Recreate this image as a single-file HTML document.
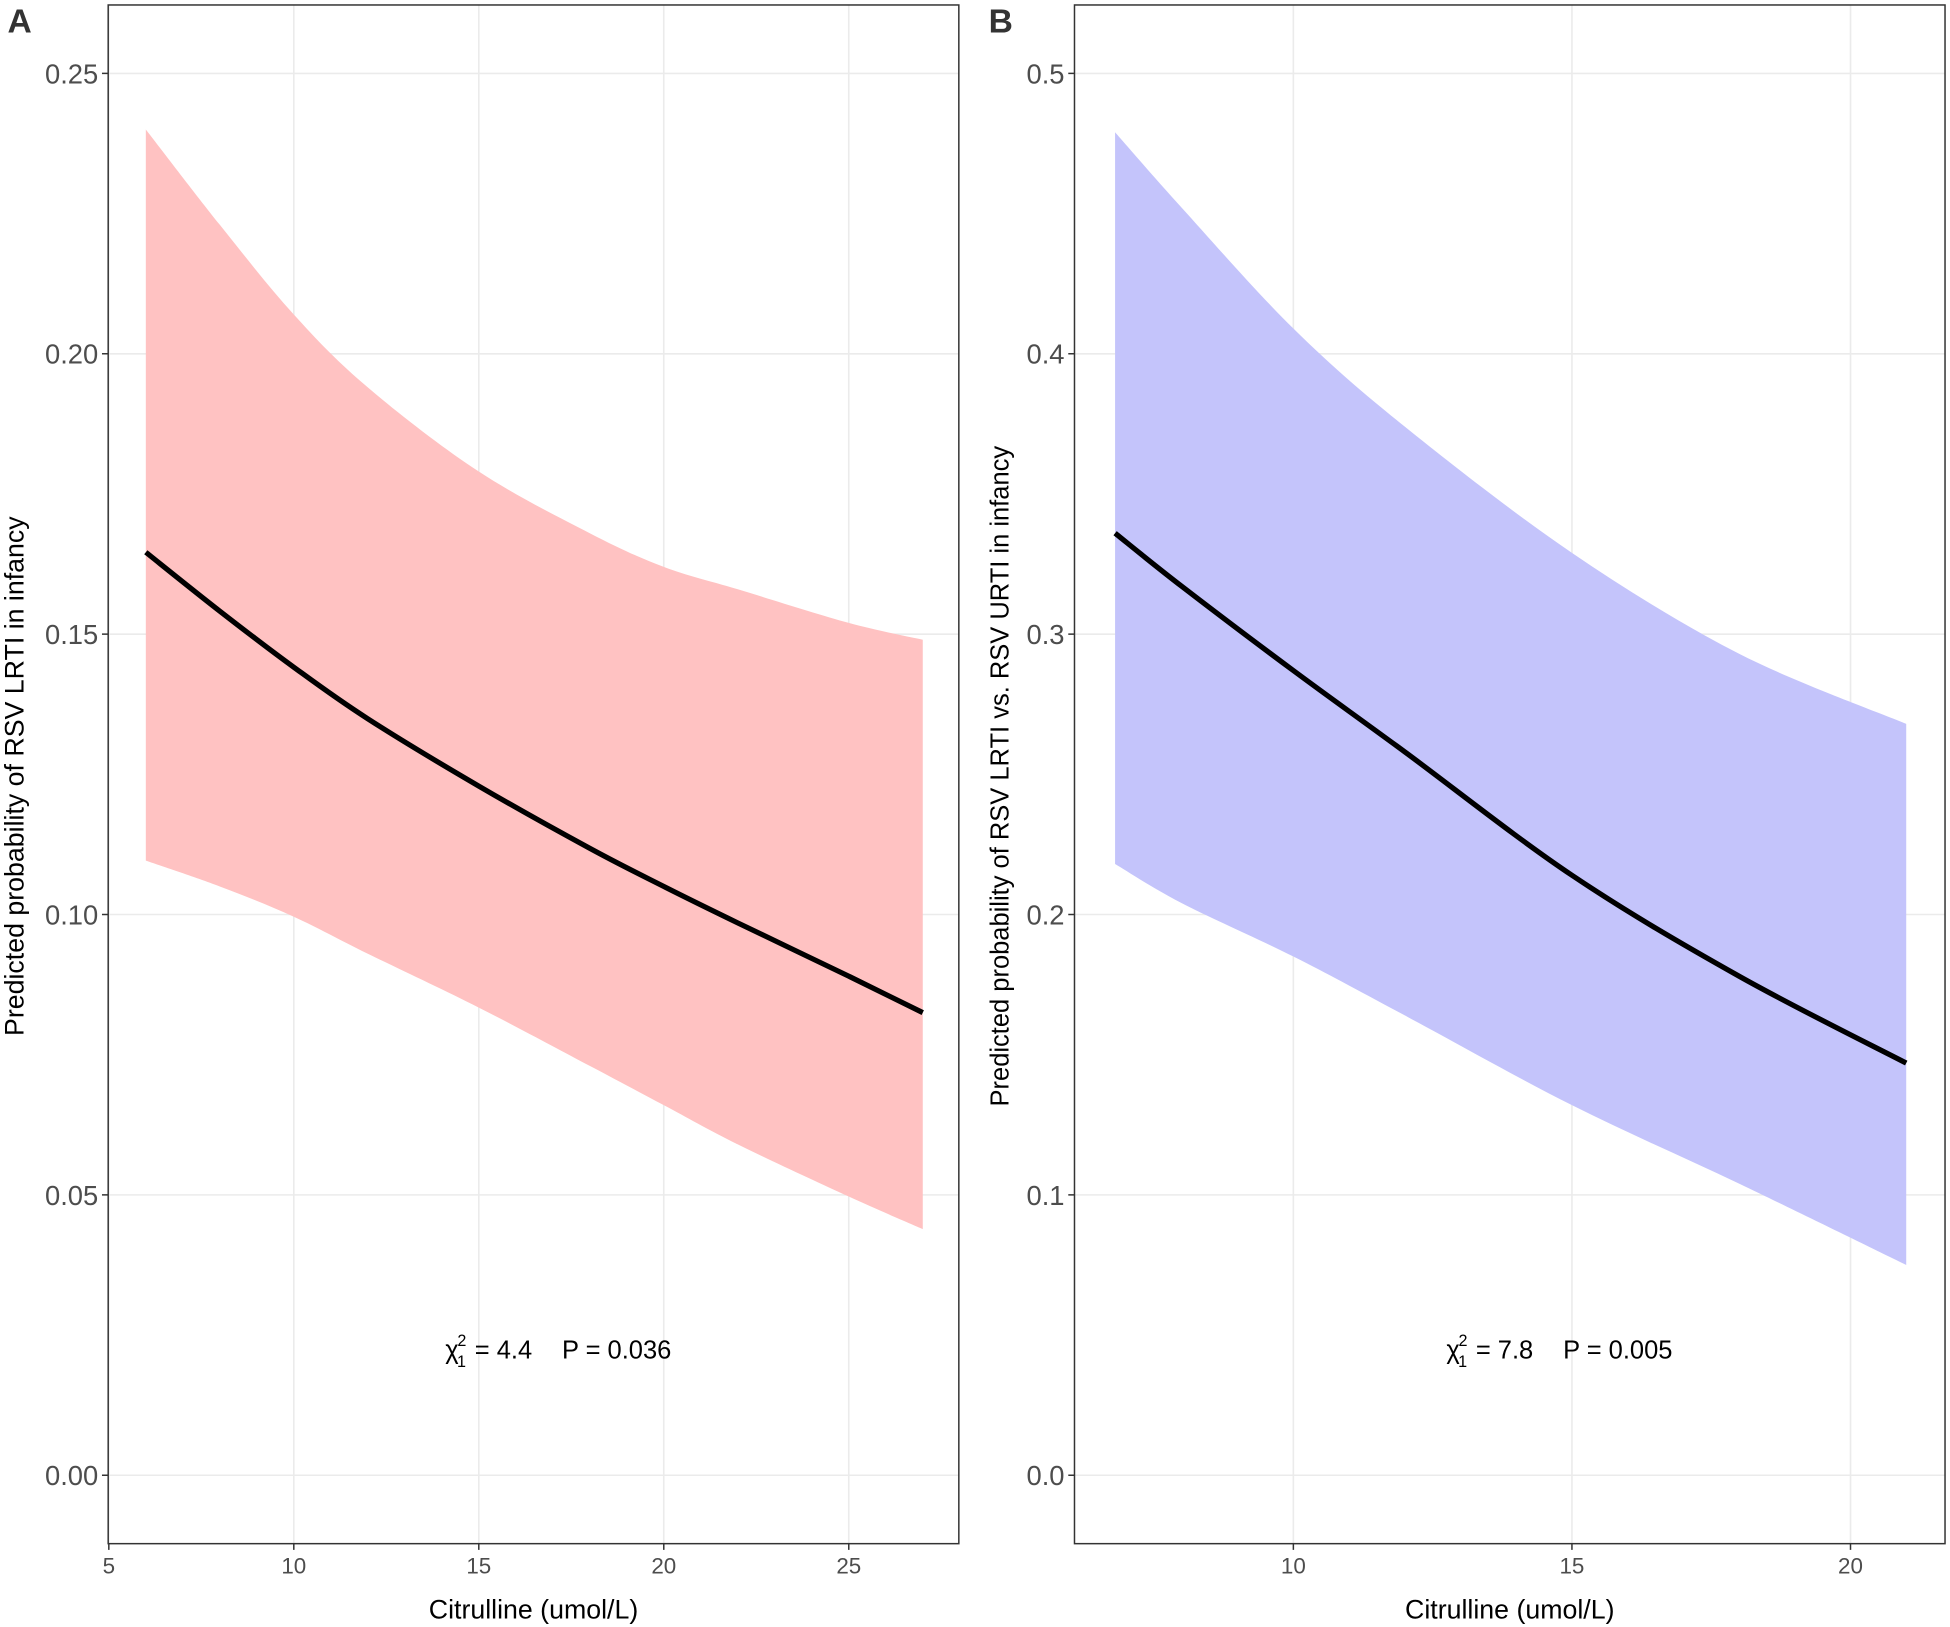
<!DOCTYPE html>
<html><head><meta charset="utf-8">
<style>
html,body{margin:0;padding:0;background:#fff;}
svg{display:block;font-family:"Liberation Sans",sans-serif;}
</style></head>
<body>
<svg id="chart" width="1950" height="1627" viewBox="0 0 1568 1308" preserveAspectRatio="none">
</svg>
<script>
// Panel A data
const aX = [6, 8, 10, 12, 15, 18, 20, 22, 25, 27];
const aFit = [0.1646, 0.1541, 0.1441, 0.1349, 0.1229, 0.1118, 0.1050, 0.0985, 0.0890, 0.0825];
const aUpper = [0.240, 0.223, 0.207, 0.194, 0.179, 0.168, 0.162, 0.158, 0.152, 0.149];
const aLower = [0.1096, 0.105, 0.0996, 0.093, 0.0834, 0.073, 0.066, 0.059, 0.0497, 0.0439];
const aXTicks = [5, 10, 15, 20, 25];
const aYTicks = [0, 0.05, 0.10, 0.15, 0.20, 0.25];
const aYLabels = ["0.00", "0.05", "0.10", "0.15", "0.20", "0.25"];
// Panel B data
const bX = [6.8, 8, 10, 12, 15, 18, 21];
const bFit = [0.336, 0.317, 0.287, 0.258, 0.214, 0.178, 0.147];
const bUpper = [0.479, 0.452, 0.409, 0.374, 0.329, 0.293, 0.268];
const bLower = [0.218, 0.204, 0.185, 0.164, 0.132, 0.104, 0.075];
const bXTicks = [10, 15, 20];
const bYTicks = [0, 0.1, 0.2, 0.3, 0.4, 0.5];
const bYLabels = ["0.0", "0.1", "0.2", "0.3", "0.4", "0.5"];

const NS = "http://www.w3.org/2000/svg";
const svg = document.getElementById("chart");
function mk(tag, attrs, parent, text) {
  const e = document.createElementNS(NS, tag);
  for (const k in attrs) e.setAttribute(k, attrs[k]);
  if (text !== undefined) e.textContent = text;
  (parent || svg).appendChild(e);
  return e;
}
function smooth(pts) {
  let d = "";
  for (let i = 0; i < pts.length - 1; i++) {
    const p0 = pts[Math.max(0, i - 1)], p1 = pts[i], p2 = pts[i + 1], p3 = pts[Math.min(pts.length - 1, i + 2)];
    const c1 = [p1[0] + (p2[0] - p0[0]) / 6, p1[1] + (p2[1] - p0[1]) / 6];
    const c2 = [p2[0] - (p3[0] - p1[0]) / 6, p2[1] - (p3[1] - p1[1]) / 6];
    d += " C" + c1[0] + "," + c1[1] + " " + c2[0] + "," + c2[1] + " " + p2[0] + "," + p2[1];
  }
  return d;
}

function panel(o) {
  const g = mk("g", {});
  
  
  const sx = v => o.x0 + (v - o.xv0) * o.xs;
  const sy = v => o.y0 - (v - o.yv0) * o.ys;
  o.yTicks.forEach(t => {
    const l = mk("line", {x1: o.left, x2: o.right, y1: sy(t), y2: sy(t), stroke: "#ebebeb", "stroke-width": 1.3}, g);
    
    
  });
  o.xTicks.forEach(t => {
    const l = mk("line", {x1: sx(t), x2: sx(t), y1: o.top, y2: o.bottom, stroke: "#ebebeb", "stroke-width": 1.3}, g);
    
    
  });
  const up = o.xs_.map((x, i) => [sx(x), sy(o.up[i])]);
  const lo = o.xs_.map((x, i) => [sx(x), sy(o.lo[i])]).reverse();
  let d = "M" + up[0][0] + "," + up[0][1] + smooth(up) + " L" + lo[0][0] + "," + lo[0][1] + smooth(lo) + " Z";
  const rib = mk("path", {d: d, fill: o.fill, stroke: "none"}, g);
  
  
  const fp = o.xs_.map((x, i) => [sx(x), sy(o.fit[i])]);
  const ln = mk("path", {d: "M" + fp[0][0] + "," + fp[0][1] + smooth(fp), fill: "none", stroke: "#000", "stroke-width": 4.2, "stroke-linejoin": "round"}, g);
  
  
  const b = mk("rect", {x: o.left, y: o.top, width: o.right - o.left, height: o.bottom - o.top, fill: "none", stroke: "#333", "stroke-width": 1.2}, g);
  
  
  o.yTicks.forEach((t, i) => {
    mk("line", {x1: o.left - 5, x2: o.left, y1: sy(t), y2: sy(t), stroke: "#333", "stroke-width": 1.2}, g);
    const tx = mk("text", {x: o.left - 8, y: sy(t) + 8, "text-anchor": "end", "font-size": 22, fill: "#4d4d4d"}, g, o.yLabels[i]);
    
    
  });
  o.xTicks.forEach(t => {
    mk("line", {x1: sx(t), x2: sx(t), y1: o.bottom, y2: o.bottom + 5, stroke: "#333", "stroke-width": 1.2}, g);
    const tx = mk("text", {x: sx(t), y: o.bottom + 24, "text-anchor": "middle", "font-size": 18, fill: "#4d4d4d"}, g, String(t));
    
    
  });
  const xt = mk("text", {x: (o.left + o.right) / 2, y: 1301, "text-anchor": "middle", "font-size": 21.5, fill: "#000"}, g, "Citrulline (umol/L)");
  
  
  const yt = mk("text", {x: 0, y: 0, transform: "translate(" + o.ytx + "," + o.yty + ") rotate(-90)", "text-anchor": "middle", "font-size": o.ytfs, fill: "#000"}, g, o.ytitle);
  
  
  const pl = mk("text", {x: o.lx, y: 26, "font-size": 27, "font-weight": "bold", fill: "#333"}, g, o.letter);
  
  
  const an = mk("text", {x: o.ax, y: 1092, "font-size": 20.5, fill: "#000"}, g);
  
  
  mk("tspan", {}, an, "χ");
  mk("tspan", {dx: -1, dy: -10, "font-size": 13}, an, "2");
  mk("tspan", {dx: -7.5, dy: 17, "font-size": 13}, an, "1");
  mk("tspan", {dx: 7, dy: -7}, an, "= " + o.chi);
  mk("tspan", {dx: 24}, an, "P = " + o.p);
}

panel({name: "panel-a", left: 87, right: 771, top: 4, bottom: 1241,
  x0: 87.5, xv0: 5, xs: 29.75, y0: 1186, yv0: 0, ys: 4508,
  xTicks: aXTicks, yTicks: aYTicks, yLabels: aYLabels,
  xs_: aX, fit: aFit, up: aUpper, lo: aLower, fill: "#ffc2c2",
  ytx: 19, yty: 624, ytfs: 21.5, ytitle: "Predicted probability of RSV LRTI in infancy",
  letter: "A", lx: 6, ax: 358, chi: "4.4", p: "0.036"});
panel({name: "panel-b", left: 864, right: 1564, top: 4, bottom: 1241,
  x0: 1040, xv0: 10, xs: 44.8, y0: 1186, yv0: 0, ys: 2254,
  xTicks: bXTicks, yTicks: bYTicks, yLabels: bYLabels,
  xs_: bX, fit: bFit, up: bUpper, lo: bLower, fill: "#c4c4fb",
  ytx: 811, yty: 624, ytfs: 20.5, ytitle: "Predicted probability of RSV LRTI vs. RSV URTI in infancy",
  letter: "B", lx: 795, ax: 1163, chi: "7.8", p: "0.005"});
</script>
</body></html>
